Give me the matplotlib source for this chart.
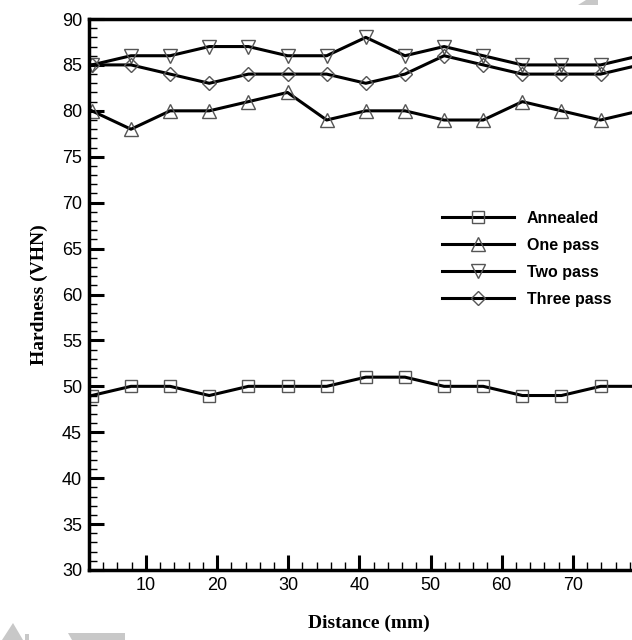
import matplotlib
matplotlib.use("Agg")
import matplotlib.pyplot as plt
from matplotlib.ticker import MultipleLocator
from matplotlib.patches import Polygon
import numpy as np

# distance along the sample (mm); last point sits beyond the cropped edge
distance = [2.4, 7.9, 13.4, 18.9, 24.4, 29.9, 35.4, 40.9, 46.4, 51.9, 57.4, 62.9, 68.4, 73.9, 79.4]
annealed = [49, 50, 50, 49, 50, 50, 50, 51, 51, 50, 50, 49, 49, 50, 50]
one_pass = [80, 78, 80, 80, 81, 82, 79, 80, 80, 79, 79, 81, 80, 79, 80]
two_pass = [85, 86, 86, 87, 87, 86, 86, 88, 86, 87, 86, 85, 85, 85, 86]
three_pass = [85, 85, 84, 83, 84, 84, 84, 83, 84, 86, 85, 84, 84, 84, 85]

series = [("Annealed", annealed, "s", 8),
          ("One pass", one_pass, "^", 9.5),
          ("Two pass", two_pass, "v", 9.5),
          ("Three pass", three_pass, "D", 7.5)]

W, H = 632, 640
fig = plt.figure(figsize=(6.32, 6.4), dpi=100)
ax = fig.add_axes([89/W, 70/H, 560/W, 551/H])

for name, vals, mk, ms in series:
    ax.plot(distance, vals, color="black", lw=2.2, marker=mk, ms=ms,
            mfc="none", mec="#555555", mew=1.0, label=name)

ax.set_xlim(2.0, 80.7)
ax.set_ylim(30, 90)
ax.xaxis.set_major_locator(MultipleLocator(10))
ax.xaxis.set_minor_locator(MultipleLocator(2))
ax.yaxis.set_major_locator(MultipleLocator(5))
ax.yaxis.set_minor_locator(MultipleLocator(1))
ax.set_xticks(np.arange(10, 71, 10))

ax.tick_params(which="major", direction="in", length=11, width=2.2,
               labelsize=13, pad=5, top=False, right=False)
ax.tick_params(which="minor", direction="in", length=6, width=1.0,
               top=False, right=False)
for lab in ax.get_xticklabels() + ax.get_yticklabels():
    lab.set_fontfamily("Liberation Sans")
for sp in ax.spines.values():
    sp.set_linewidth(2.5)

ax.set_xlabel("Distance (mm)", fontsize=14, fontweight="bold",
              fontfamily="Liberation Serif", labelpad=15)
ax.set_ylabel("Hardness (VHN)", fontsize=14, fontweight="bold",
              fontfamily="Liberation Serif", labelpad=10)

leg = ax.legend(loc="upper left", bbox_to_anchor=(0.605, 0.678), frameon=False,
                handlelength=4.5, labelspacing=0.75, handletextpad=0.8,
                prop={"family": "Liberation Sans", "weight": "bold", "size": 11.5})

# faint grey watermark fragments at the picture edges
def px(pts):
    return [(x / W, 1 - y / H) for x, y in pts]

for pts in ([(578, 5), (586, 0), (598, 0), (598, 5)],
            [(2, 640), (13, 623), (23, 640)],
            [(25, 634), (29, 634), (29, 640), (25, 640)],
            [(68, 633), (125, 633), (125, 640), (72, 640)]):
    fig.patches.append(Polygon(px(pts), closed=True, transform=fig.transFigure,
                               facecolor="#c8c8c8", edgecolor="none"))

fig.savefig("out.png", dpi=100)
